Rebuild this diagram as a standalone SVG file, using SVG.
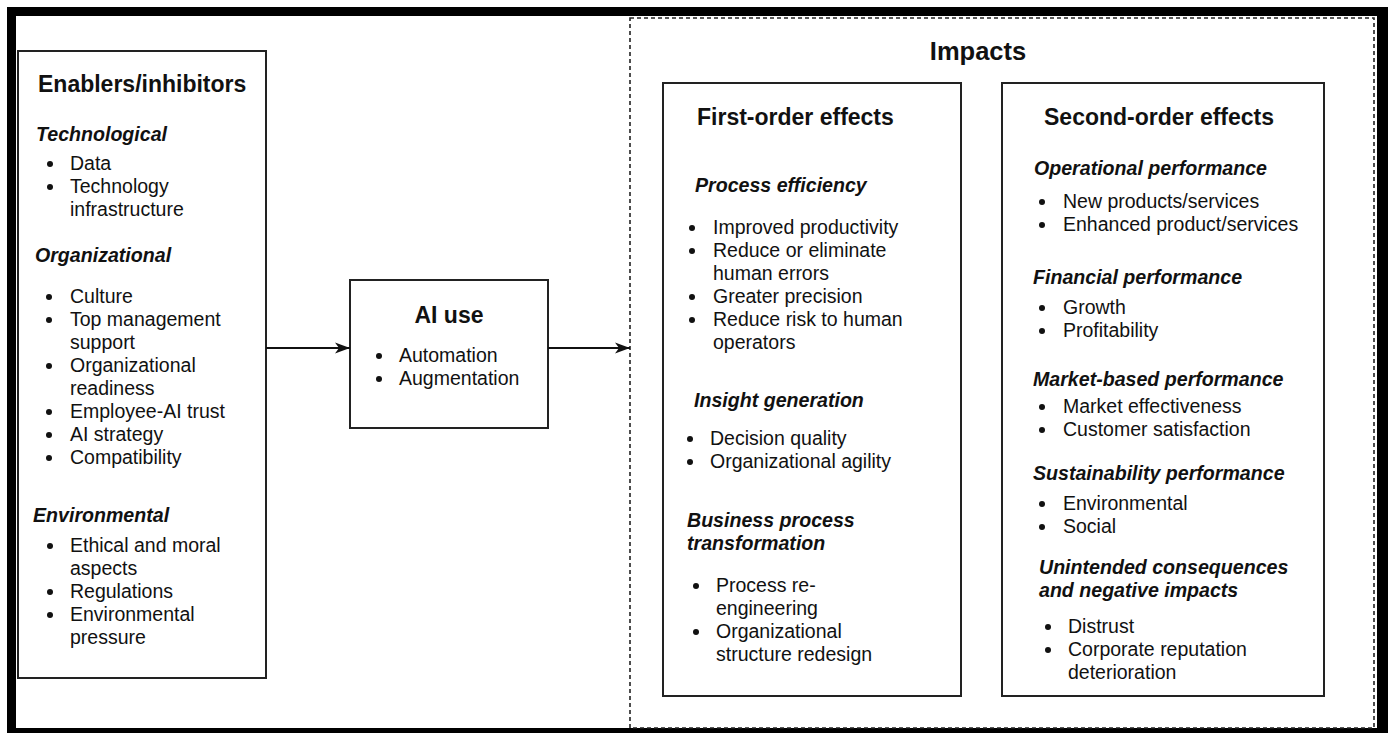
<svg xmlns="http://www.w3.org/2000/svg" width="1388" height="733" viewBox="0 0 1388 733">
<style>
text{font-family:"Liberation Sans",Arial,sans-serif;fill:#111}
.h{font-size:23px;font-weight:bold}
.t{font-size:25.5px;font-weight:bold}
.s{font-size:19.6px;font-weight:bold;font-style:italic}
.b{font-size:19.5px}
.box{fill:#fff;stroke:#222;stroke-width:2}
.dot{fill:#111}
.conn{stroke:#111;stroke-width:2;fill:none}
</style>
<defs>
<marker id="arr" markerUnits="userSpaceOnUse" markerWidth="16" markerHeight="12" refX="15" refY="6" orient="auto">
<path d="M0,0.5 L15,6 L0,11.5 L4,6 Z" fill="#111"/>
</marker>
</defs>
<rect x="0" y="0" width="1388" height="733" fill="#fff"/>
<rect x="7" y="7" width="1381" height="726" fill="#000"/>
<rect x="16" y="16" width="1361" height="712" fill="#fff"/>

<g id="impacts">
<rect x="630" y="18" width="744" height="710" fill="none" stroke="#222" stroke-width="1.6" stroke-dasharray="4 3"/>
<text class="t" x="978" y="60" text-anchor="middle">Impacts</text>
</g>

<g id="enablers">
<rect class="box" x="18" y="51" width="248" height="627"/>
<text class="h" x="38" y="92">Enablers/inhibitors</text>
<text class="s" x="36" y="141">Technological</text>
<circle class="dot" cx="50" cy="164" r="3"/><text class="b" x="70" y="170">Data</text>
<circle class="dot" cx="50" cy="187" r="3"/><text class="b" x="70" y="193">Technology</text>
<text class="b" x="70" y="216">infrastructure</text>
<text class="s" x="35" y="262">Organizational</text>
<circle class="dot" cx="49" cy="297" r="3"/><text class="b" x="70" y="303">Culture</text>
<circle class="dot" cx="49" cy="320" r="3"/><text class="b" x="70" y="326">Top management</text>
<text class="b" x="70" y="349">support</text>
<circle class="dot" cx="49" cy="366" r="3"/><text class="b" x="70" y="372">Organizational</text>
<text class="b" x="70" y="395">readiness</text>
<circle class="dot" cx="49" cy="412" r="3"/><text class="b" x="70" y="418">Employee-AI trust</text>
<circle class="dot" cx="49" cy="435" r="3"/><text class="b" x="70" y="441">AI strategy</text>
<circle class="dot" cx="49" cy="458" r="3"/><text class="b" x="70" y="464">Compatibility</text>
<text class="s" x="33" y="522">Environmental</text>
<circle class="dot" cx="50" cy="546" r="3"/><text class="b" x="70" y="552">Ethical and moral</text>
<text class="b" x="70" y="575">aspects</text>
<circle class="dot" cx="50" cy="592" r="3"/><text class="b" x="70" y="598">Regulations</text>
<circle class="dot" cx="50" cy="615" r="3"/><text class="b" x="70" y="621">Environmental</text>
<text class="b" x="70" y="644">pressure</text>
</g>

<g id="ai-use">
<rect class="box" x="350" y="280" width="198" height="148"/>
<text class="h" x="449" y="323" text-anchor="middle">AI use</text>
<circle class="dot" cx="379" cy="356" r="3"/><text class="b" x="399" y="362">Automation</text>
<circle class="dot" cx="379" cy="379" r="3"/><text class="b" x="399" y="385">Augmentation</text>
</g>

<g id="first-order">
<rect class="box" x="663" y="83" width="298" height="613"/>
<text class="h" x="697" y="125">First-order effects</text>
<text class="s" x="695" y="192">Process efficiency</text>
<circle class="dot" cx="692" cy="228" r="3"/><text class="b" x="713" y="234">Improved productivity</text>
<circle class="dot" cx="692" cy="251" r="3"/><text class="b" x="713" y="257">Reduce or eliminate</text>
<text class="b" x="713" y="280">human errors</text>
<circle class="dot" cx="692" cy="297" r="3"/><text class="b" x="713" y="303">Greater precision</text>
<circle class="dot" cx="692" cy="320" r="3"/><text class="b" x="713" y="326">Reduce risk to human</text>
<text class="b" x="713" y="349">operators</text>
<text class="s" x="694" y="407">Insight generation</text>
<circle class="dot" cx="690" cy="439" r="3"/><text class="b" x="710" y="445">Decision quality</text>
<circle class="dot" cx="690" cy="462" r="3"/><text class="b" x="710" y="468">Organizational agility</text>
<text class="s" x="687" y="527">Business process</text>
<text class="s" x="687" y="550">transformation</text>
<circle class="dot" cx="696" cy="586" r="3"/><text class="b" x="716" y="592">Process re-</text>
<text class="b" x="716" y="615">engineering</text>
<circle class="dot" cx="696" cy="632" r="3"/><text class="b" x="716" y="638">Organizational</text>
<text class="b" x="716" y="661">structure redesign</text>
</g>

<g id="second-order">
<rect class="box" x="1002" y="83" width="322" height="613"/>
<text class="h" x="1044" y="125">Second-order effects</text>
<text class="s" x="1034" y="175">Operational performance</text>
<circle class="dot" cx="1042" cy="202" r="3"/><text class="b" x="1063" y="208">New products/services</text>
<circle class="dot" cx="1042" cy="225" r="3"/><text class="b" x="1063" y="231">Enhanced product/services</text>
<text class="s" x="1033" y="284">Financial performance</text>
<circle class="dot" cx="1042" cy="308" r="3"/><text class="b" x="1063" y="314">Growth</text>
<circle class="dot" cx="1042" cy="331" r="3"/><text class="b" x="1063" y="337">Profitability</text>
<text class="s" x="1033" y="386">Market-based performance</text>
<circle class="dot" cx="1042" cy="407" r="3"/><text class="b" x="1063" y="413">Market effectiveness</text>
<circle class="dot" cx="1042" cy="430" r="3"/><text class="b" x="1063" y="436">Customer satisfaction</text>
<text class="s" x="1033" y="480">Sustainability performance</text>
<circle class="dot" cx="1042" cy="504" r="3"/><text class="b" x="1063" y="510">Environmental</text>
<circle class="dot" cx="1042" cy="527" r="3"/><text class="b" x="1063" y="533">Social</text>
<text class="s" x="1039" y="574">Unintended consequences</text>
<text class="s" x="1039" y="597">and negative impacts</text>
<circle class="dot" cx="1048" cy="627" r="3"/><text class="b" x="1068" y="633">Distrust</text>
<circle class="dot" cx="1048" cy="650" r="3"/><text class="b" x="1068" y="656">Corporate reputation</text>
<text class="b" x="1068" y="679">deterioration</text>
</g>

<g id="connectors">
<line class="conn" x1="266" y1="348" x2="350" y2="348" marker-end="url(#arr)"/>
<line class="conn" x1="548" y1="348" x2="630" y2="348" marker-end="url(#arr)"/>
</g>
</svg>
